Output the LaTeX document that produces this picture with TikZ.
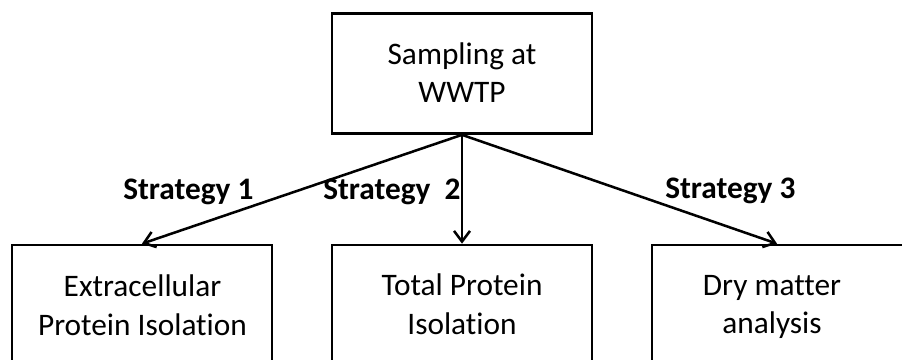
\documentclass[tikz,border=0pt]{standalone}
\usepackage{fontspec}
\setmainfont{Carlito}[Ligatures=NoCommon]
\usetikzlibrary{arrows.meta}
\begin{document}
\begin{tikzpicture}[x=0.75pt,y=-0.75pt,
  box/.style={draw=black,line width=2pt,rectangle,minimum width=195pt,minimum height=90pt,inner sep=0pt},
  boxtext/.style={inner sep=0pt,anchor=base,align=center,font=\fontsize{23.5}{28.8}\selectfont},
  strat/.style={inner sep=0pt,anchor=base west,font=\fontsize{23.5}{28}\selectfont\bfseries},
  link/.style={line width=1.9pt,-{Straight Barb[length=8pt,width=12pt]}}]
\clip (0,0) rectangle (902,360);
\fill[white] (0,0) rectangle (902,360);

% boxes
\node[box] (top) at (462,73.5) {};
\node[box] (b1) at (142,305) {};
\node[box] (b2) at (462,305) {};
\node[box] (b3) at (782,305) {};

% box texts (anchored on the baseline of the last line)
\node[boxtext] (t0) at (462,103) {Sampling at\\WWTP};
\node[boxtext] (t1) at (142.5,335) {Extracellular\\Protein Isolation};
\node[boxtext] (t2) at (462,334) {Total Protein\\Isolation};
\node[boxtext] (t3) at (772,333.5) {Dry matter\\analysis};

% arrow end on the third box
\coordinate (e3) at ([xshift=-3.75pt]b3.north);

% connectors
\draw[link] (top.south) -- (b1.north);
\draw[link] (top.south) -- (b2.north);
\draw[link] (top.south) -- (e3);

% strategy labels
\node[strat] (s1) at (123,199) {Strategy 1};
\node[strat] (s2) at (323,199) {Strategy\ \ 2};
\node[strat] (s3) at (665,198) {Strategy 3};
\end{tikzpicture}
\end{document}
